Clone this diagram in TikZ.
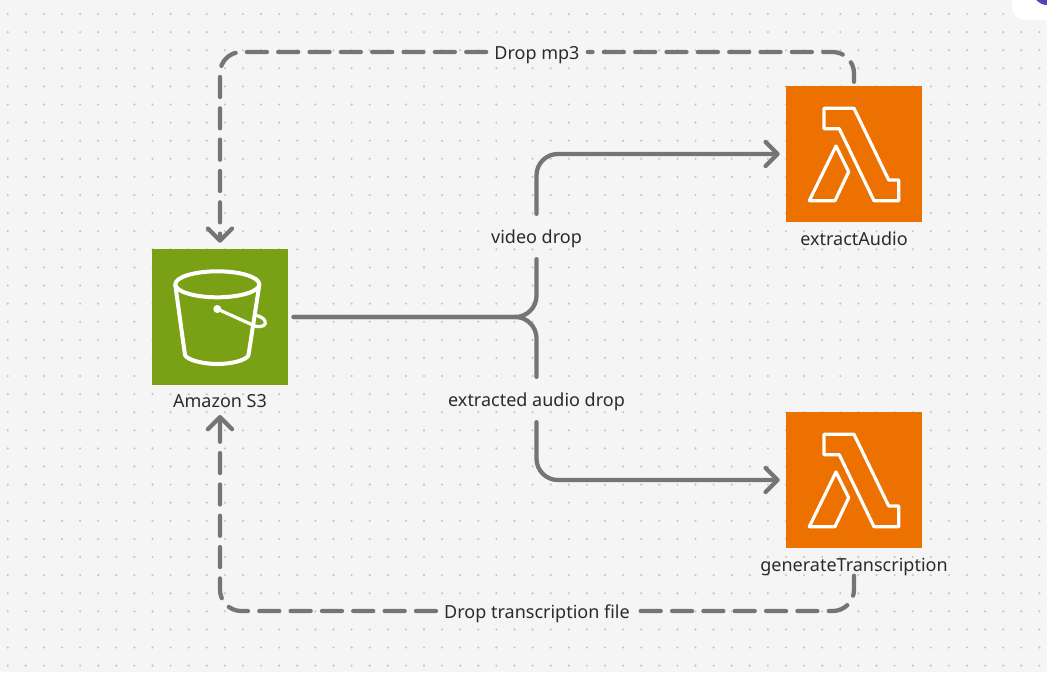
\documentclass[tikz,border=0pt]{standalone}
\usepackage{fontspec}
\setmainfont{Noto Sans}
\usetikzlibrary{arrows.meta, positioning}
\definecolor{canvas}{HTML}{F5F5F5}
\definecolor{griddot}{HTML}{C6C6C6}
\definecolor{flowgray}{HTML}{757575}
\definecolor{s3green}{HTML}{7AA116}
\definecolor{lambdaorange}{HTML}{ED7100}
\definecolor{textdark}{HTML}{2B2B2B}
\definecolor{badgepurple}{HTML}{5B3FB5}
\tikzset {
    service/.style = {
        shape = rectangle,
        minimum size=102pt,
        inner sep=0pt
    },
    service label/.style = {
        font=\fontsize{13.5pt}{16pt}\selectfont,
        text=textdark,
        inner sep=0pt
    },
    flow label/.style = {
        font=\fontsize{13.5pt}{16pt}\selectfont,
        text=textdark,
        fill=canvas,
        text height=11pt,
        text depth=0pt,
        inner xsep=6pt,
        inner ysep=3pt
    },
    flow/.style = {
        draw=flowgray,
        line width=3.2pt,
        line cap=round,
        rounded corners=16pt,
        -{Straight Barb[length=9pt,width=18pt,line width=3.2pt,round]}
    },
    flow plain/.style = {
        draw=flowgray,
        line width=3.2pt,
        line cap=round,
        rounded corners=16pt
    },
    drop/.style = {
        dash pattern=on 15pt off 8.5pt
    },
    icon line/.style = {
        draw=white,
        line width=2.4pt,
        line join=round,
        line cap=round
    },
    bucket line/.style = {
        icon line,
        line width=3pt
    },
    pics/lambda/.style = {
        code = {
            \draw [icon line] (-30,-45.7) -- (0,-45.7) -- (34.7,26) -- (44.7,26) -- (44.7,46.7)
                -- (20,46.7) -- (-14.7,-25.3) -- (-30,-25.3) -- cycle;
            \draw [icon line] (-18,-8) -- (-5.3,17.7) -- (-19,46.7) -- (-44.7,46.7) -- cycle;
        }
    },
    pics/bucket/.style = {
        code = {
            \draw [bucket line] (-2.7,-32.7) ellipse [x radius=42, y radius=13];
            \draw [bucket line] (-44.7,-32) -- (-35,38)
                .. controls (-33,43) and (-17,47) .. (-2.7,47)
                .. controls (12,47) and (27,43) .. (28.5,38) -- (39.3,-32);
            \fill [white] (-2.7,-8) circle (3pt);
            \draw [icon line] (-2.7,-8) -- (35,9)
                .. controls (42,11) and (47,8) .. (45,4)
                .. controls (44,1) and (39,-1) .. (35,-2);
        }
    }
}
\begin{document}
\begin{tikzpicture}[x=0.75pt, y=-0.75pt]
    \useasboundingbox (0,0) rectangle (1047,672);
    \fill [canvas] (0,0) rectangle (1047,672);

    % Dotted canvas
    \foreach \i in {0,...,57} {
        \foreach \j in {0,...,36} {
            \fill [griddot] ({7.7+18.1*\i},{14+18.1*\j}) circle (0.9pt);
        }
    }

    % Corner of the toolbar card
    \fill [white, rounded corners=10pt] (1012,-30) rectangle (1080,20);
    \fill [badgepurple] (1047,-9) circle (10.5pt);

    % Services
    \node [service, fill=s3green] at (220,317)           (s3)      {};
    \node [service, fill=lambdaorange] at (854,154)      (extract) {};
    \node [service, fill=lambdaorange] at (854,480)      (generate){};
    \node [service label, below=7pt of s3]               (s3label)       {Amazon S3};
    \node [service label, below=7pt of extract]          (extractlabel)  {extractAudio};
    \node [service label, below=7pt of generate]         (generatelabel) {generateTranscription};

    % Icons
    \pic at (s3)       {bucket};
    \pic at (extract)  {lambda};
    \pic at (generate) {lambda};

    % Flow labels, the connectors stop at their outer edge
    \node [flow label, outer ysep=8.5pt] at (536.5,236.5) (videodrop)   {video drop};
    \node [flow label, outer ysep=8.5pt] at (536.5,399.5) (audiodrop)   {extracted audio drop};
    \node [flow label] at (537,52)                        (dropmp3)     {Drop mp3};
    \node [flow label] at (537,611)                       (droptext)    {Drop transcription file};

    % Helper points on the branch
    \coordinate (branch) at (s3.east -| videodrop.south);

    \draw [flow plain, shorten <=4pt] (s3.east) -- (branch) -- (videodrop.south);
    \draw [flow plain, shorten <=4pt] (s3.east) -- (branch) -- (audiodrop.north);
    \draw [flow, shorten >=4.5pt] (videodrop.north) |- (extract.west);
    \draw [flow, shorten >=4.5pt] (audiodrop.south) |- (generate.west);

    \draw [flow plain, drop, shorten <=3pt] (extract.north) |- (dropmp3.east);
    \draw [flow, drop, shorten >=4.5pt] (dropmp3.west) -| (s3.north);
    \draw [flow plain, drop] (generatelabel.south) |- (droptext.east);
    \draw [flow, drop, shorten >=5pt] (droptext.west) -| (s3label.south);
\end{tikzpicture}
\end{document}
